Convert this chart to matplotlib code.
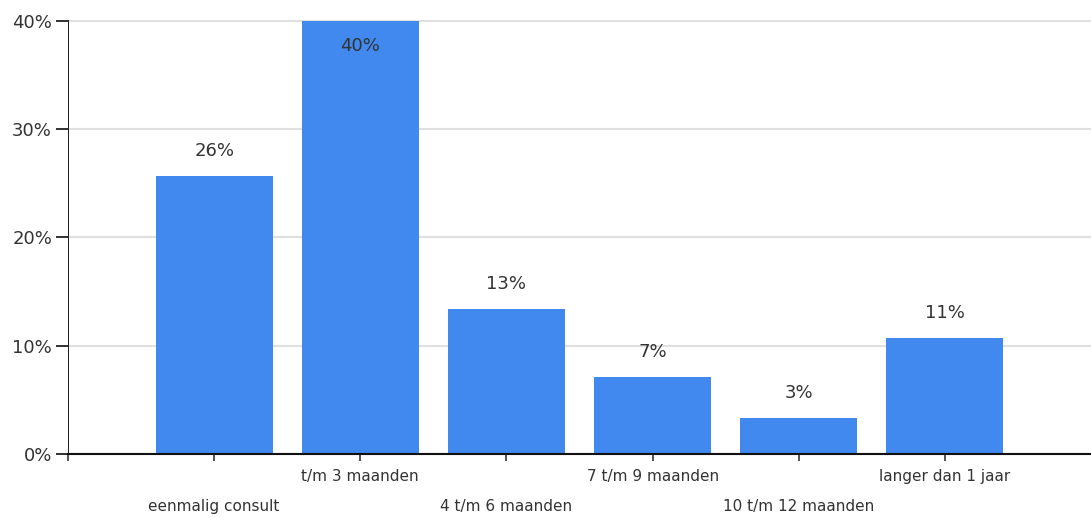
import numpy as np
import matplotlib
matplotlib.use("Agg")
import matplotlib.pyplot as plt
import matplotlib.transforms as mtransforms
from matplotlib.ticker import FuncFormatter

categories = [
    "eenmalig consult",
    "t/m 3 maanden",
    "4 t/m 6 maanden",
    "7 t/m 9 maanden",
    "10 t/m 12 maanden",
    "langer dan 1 jaar",
]
values = [25.7, 40.0, 13.4, 7.1, 3.3, 10.7]
value_labels = ["26%", "40%", "13%", "7%", "3%", "11%"]
y_ticks = [0, 10, 20, 30, 40]

BAR_COLOR = "#4189ee"
TEXT_COLOR = "#333333"

plt.rcParams["font.family"] = ["DejaVu Sans"]

fig = plt.figure(figsize=(10.91, 5.18), dpi=100)
ax = fig.add_axes([68 / 1091, 1 - 454 / 518, 1 - 68 / 1091, (454 - 20) / 518])

x = np.arange(1, len(categories) + 1)
ax.bar(x, values, width=0.8, color=BAR_COLOR, zorder=2)

ax.set_xlim(0, 7)
ax.set_ylim(0, 40.05)

# value labels: above the bar, or inside when it hits the top
for xi, v, lab in zip(x, values, value_labels):
    off = -18 if v >= 39 else 18
    ax.annotate(lab, (xi, v), xytext=(0, off), textcoords="offset points",
                ha="center", va="center", fontsize=13, color=TEXT_COLOR)

# y axis
ax.set_yticks(y_ticks)
ax.yaxis.set_major_formatter(FuncFormatter(lambda v, p: f"{v:.0f}%"))
ax.tick_params(axis="y", length=8.5, width=1.3, color="#222222", pad=3,
               labelsize=13, labelcolor=TEXT_COLOR)
ax.grid(axis="y", color="#e0e0e0", linewidth=1.5, zorder=0)
ax.set_axisbelow(True)

# x axis, labels staggered over two rows
ax.set_xticks(np.arange(0, len(categories) + 1))
ax.set_xticklabels([""] + categories)
ax.tick_params(axis="x", length=5, width=1.3, color="#444444", pad=6,
               labelsize=11, labelcolor=TEXT_COLOR)
shift = mtransforms.ScaledTranslation(0, -30 / 100, fig.dpi_scale_trans)
for i, lbl in enumerate(ax.get_xticklabels()):
    if i % 2 == 1:
        lbl.set_transform(lbl.get_transform() + shift)

for side in ["top", "right"]:
    ax.spines[side].set_visible(False)
ax.spines["bottom"].set_color("#111111")
ax.spines["bottom"].set_linewidth(1.5)
ax.spines["bottom"].set_zorder(3)
ax.spines["left"].set_color("#222222")
ax.spines["left"].set_linewidth(1.0)
ax.spines["left"].set_linestyle((0, (1.1, 1.1)))
ax.spines["left"].set_antialiased(False)

fig.savefig("out.png", dpi=100)
